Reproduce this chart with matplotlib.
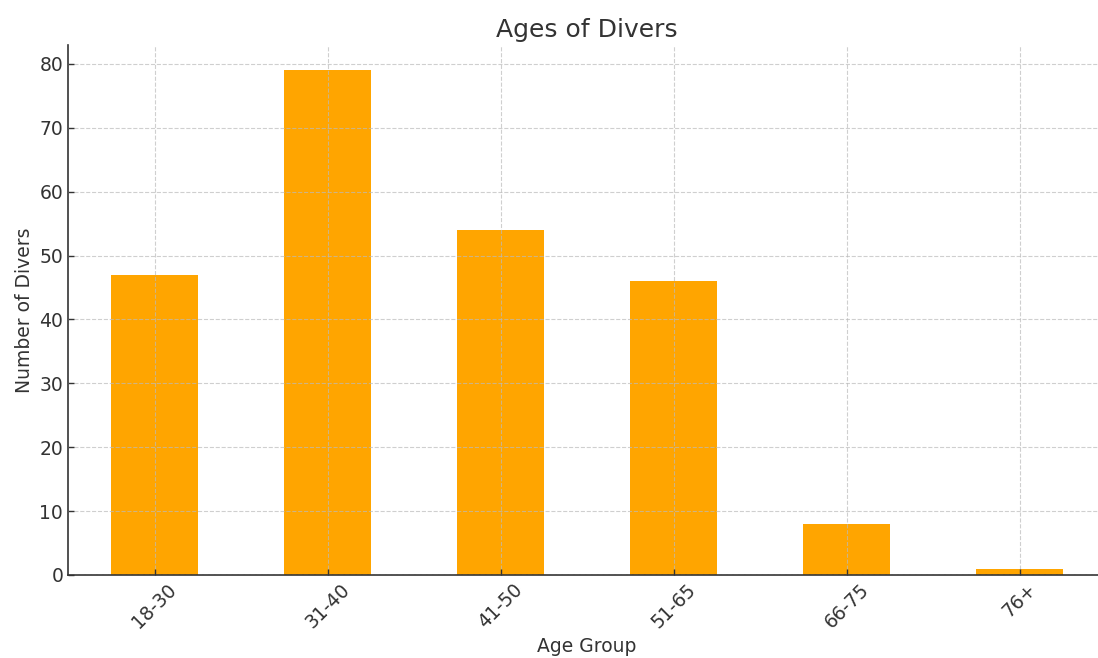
import matplotlib
matplotlib.use("Agg")
import matplotlib.pyplot as plt

age_groups = ["18-30", "31-40", "41-50", "51-65", "66-75", "76+"]
divers = [47, 79, 54, 46, 8, 1]

plt.rcParams.update({"font.family": "DejaVu Sans", "text.color": "#333333",
                     "axes.labelcolor": "#333333", "xtick.color": "#333333",
                     "ytick.color": "#333333"})

fig = plt.figure(figsize=(10.98, 6.58), dpi=100)
ax = fig.add_axes([68 / 1098, 83 / 658, 1038 / 1098, 530 / 658])

x = range(len(age_groups))
ax.bar(x, divers, width=0.5, color="orange", zorder=1)
ax.set_xticks(list(x))
ax.set_xticklabels(age_groups, rotation=45, fontsize=13.5)
ax.tick_params(axis="both", direction="in", length=4, width=1, labelsize=13.5)
ax.set_xlim(-0.5, len(age_groups) - 0.5)
ax.set_ylim(0, max(divers) * 1.05)
ax.set_axisbelow(False)
ax.grid(True, linestyle="--", color="#bbbbbb", linewidth=0.8, alpha=0.7, zorder=2)
for s in ["top", "right"]:
    ax.spines[s].set_visible(False)
for s in ["left", "bottom"]:
    ax.spines[s].set_color("#333333")
    ax.spines[s].set_linewidth(1.2)
ax.set_title("Ages of Divers", fontsize=18)
ax.set_xlabel("Age Group", fontsize=13.5)
ax.set_ylabel("Number of Divers", fontsize=13.5)

fig.savefig("out.png")
